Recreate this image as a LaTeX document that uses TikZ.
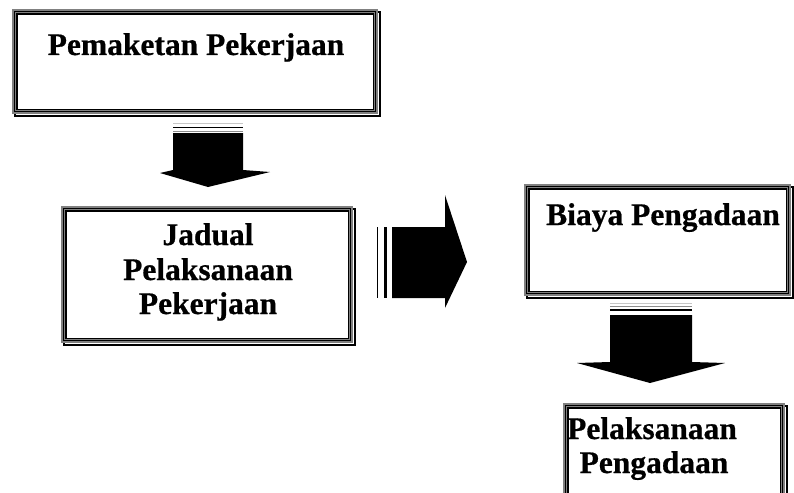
\documentclass[tikz,border=0pt]{standalone}
\usepackage{fontspec}
\setmainfont{Liberation Serif}[BoldFeatures={FakeBold=0.6}]
\tikzset{
  panel/.style={draw=none, fill=white, inner sep=0pt, anchor=north west},
  caption/.style={inner sep=0pt, anchor=base,
    font=\fontsize{31.5}{36}\selectfont\bfseries},
  framegray/.style={draw=black!50},
  stripelight/.style={draw=black!22, line width=1pt},
  stripegray/.style={draw=black!45, line width=1pt},
  stripedark/.style={draw=black, line width=1.6pt},
  bigarrow/.style={fill=black, draw=none}
}
% layered double frame with a drop shadow, drawn around a panel node
\newcommand\layeredframe[1]{%
  \draw[black, line width=1.8pt] ([shift={(3,3)}]#1.north west) rectangle ([shift={(1.4,1.4)}]#1.south east);
  \draw[framegray, line width=2.2pt] ([shift={(1.1,1.1)}]#1.north west) rectangle ([shift={(-1.1,-1.1)}]#1.south east);
  \draw[black, line width=1.1pt] ([shift={(2.7,2.7)}]#1.north west) rectangle ([shift={(-2.7,-2.7)}]#1.south east);
  \draw[framegray, line width=1pt] ([shift={(3.8,3.8)}]#1.north west) rectangle ([shift={(-3.8,-3.8)}]#1.south east);
  \draw[black, line width=1.3pt] ([shift={(5,5)}]#1.north west) rectangle ([shift={(-5,-5)}]#1.south east);
}
\begin{document}
\begin{tikzpicture}[x=1pt, y=-1pt]
\useasboundingbox[fill=white] (0,0) rectangle (794,492);

% panels and their captions (one node per printed line)
\node[panel, minimum width=366, minimum height=105] (pemaketan) at (12,9) {};
\layeredframe{pemaketan}
\node[caption] (tpemaketan) at (196,55) {Pemaketan Pekerjaan};

\node[panel, minimum width=292, minimum height=137] (jadual) at (61,206) {};
\layeredframe{jadual}
\node[caption] (tjadual1) at (208,245) {Jadual};
\node[caption] (tjadual2) at (208,280) {Pelaksanaan};
\node[caption] (tjadual3) at (208,314) {Pekerjaan};

\node[panel, minimum width=267, minimum height=112] (biaya) at (524,184) {};
\layeredframe{biaya}
\node[caption, anchor=base west] (tbiaya) at (546,225) {Biaya Pengadaan};

\node[panel, minimum width=222, minimum height=102] (pelaksanaan) at (563,403) {};
\layeredframe{pelaksanaan}
\node[caption] (tpelaksanaan1) at (652,439) {Pelaksanaan};
\node[caption] (tpelaksanaan2) at (654,473) {Pengadaan};

% downward block arrow under the first panel
\draw[stripelight] (173,123) -- (243,123);
\draw[stripedark] (173,127.5) -- (243,127.5);
\draw[stripegray] (173,131) -- (243,131);
\fill[bigarrow] (173,133) -- (243,133) -- (243,170) -- (270,172) -- (208,187)
  -- (160,173) -- (173,170) -- cycle;

% rightward block arrow between the two columns
\draw[black, line width=1pt] (377,227) -- (377,298);
\draw[stripedark, line width=3pt] (385,227) -- (385,298);
\fill[bigarrow] (392,227) -- (445,227) -- (445,195) -- (467,262) -- (445,308)
  -- (445,298) -- (392,298) -- cycle;

% downward block arrow under the cost panel
\draw[stripelight] (610,303) -- (692,303);
\draw[stripegray] (610,306) -- (692,306);
\draw[stripedark, line width=2pt] (610,309.5) -- (692,309.5);
\fill[bigarrow] (610,315) -- (692,315) -- (692,362) -- (725,363) -- (650,383)
  -- (577,363) -- (610,362) -- cycle;
\end{tikzpicture}
\end{document}
